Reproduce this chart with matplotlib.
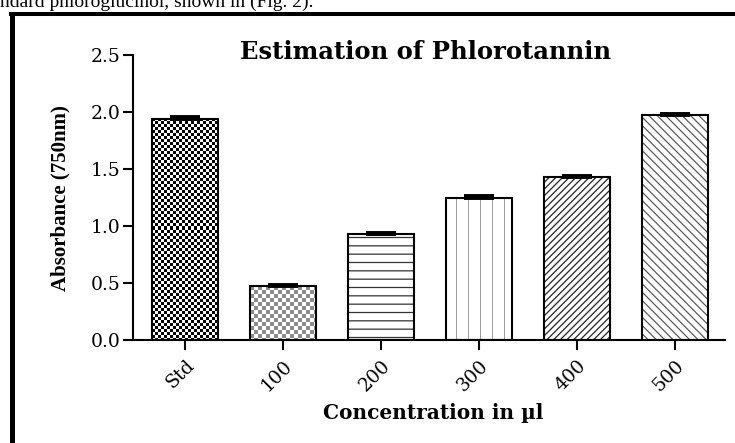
import numpy as np
import matplotlib
matplotlib.use("Agg")
import matplotlib.pyplot as plt
from matplotlib.lines import Line2D

# data
groups = ["Std", "100", "200", "300", "400", "500"]
absorbance = [1.94, 0.47, 0.93, 1.25, 1.43, 1.97]
sd = [0.012, 0.012, 0.012, 0.015, 0.01, 0.01]
yticks = [0.0, 0.5, 1.0, 1.5, 2.0, 2.5]

plt.rcParams["font.family"] = ["Liberation Serif", "DejaVu Serif"]
plt.rcParams["hatch.linewidth"] = 0.9

fig = plt.figure(figsize=(7.35, 4.43), dpi=100)
W, H = 735, 443
ax = fig.add_axes([133 / W, (H - 340) / H, (725 - 133) / W, 285 / H])

x = np.arange(len(groups))
width = 0.68
ax.set_xlim(-0.53, 5.51)
ax.set_ylim(0, 2.5)

# line hatches (colour comes from edgecolor, edge itself not drawn)
hatches = ["", "", "--", "", "/////", "\\\\\\\\"]
hatch_cols = ["none", "none", "#333333", "none", "#222222", "#5a5a5a"]
hb = ax.bar(x, absorbance, width, facecolor="none", edgecolor=hatch_cols,
            linewidth=0, zorder=2)
for p, h in zip(hb, hatches):
    p.set_hatch(h)

outline = ax.bar(x, absorbance, width, facecolor="none", edgecolor="black",
                 linewidth=1.5, zorder=4)


def pixel_fill(i, kind):
    p = outline[i]
    x0, y0 = p.get_x(), 0
    x1, y1 = x0 + p.get_width(), p.get_height()
    (px0, py0), (px1, py1) = ax.transData.transform([(x0, y0), (x1, y1)])
    w = max(int(round(px1 - px0)), 1)
    h = max(int(round(py1 - py0)), 1)
    r, c = np.indices((h, w))
    img = np.ones((h, w, 3))
    if kind == "fine":
        mask = ((r // 3 + c // 3) % 2) == 0
        img[mask] = 0.0
    elif kind == "coarse":
        mask = ((r // 4 + c // 4) % 2) == 0
        img[mask] = 0.55
    elif kind == "vlines":
        mask = (c % 12) == 10
        img[mask] = 0.62
    im = ax.imshow(img, extent=(x0, x1, y0, y1), aspect="auto",
                   interpolation="nearest", zorder=1.5)
    im.set_clip_path(p)


pixel_fill(0, "fine")
pixel_fill(1, "coarse")
pixel_fill(3, "vlines")
ax.set_xlim(-0.53, 5.51)
ax.set_ylim(0, 2.5)

ax.errorbar(x, absorbance, yerr=[[0] * len(sd), sd], fmt="none",
            ecolor="black", elinewidth=2, capsize=11, capthick=2.8, zorder=5)

for s in ["top", "right"]:
    ax.spines[s].set_visible(False)
for s in ["left", "bottom"]:
    ax.spines[s].set_linewidth(1.5)
ax.spines["left"].set_bounds(0, 2.5)

ax.set_yticks(yticks)
ax.set_yticklabels([f"{v:.1f}" for v in yticks])
ax.set_xticks(x)
ax.set_xticklabels(groups, rotation=45, ha="right", rotation_mode="anchor")
ax.tick_params(axis="both", direction="out", length=7, width=1.5,
               labelsize=13.5, colors="black")
ax.tick_params(axis="y", pad=2)
ax.tick_params(axis="x", pad=5)
for lab in ax.get_xticklabels() + ax.get_yticklabels():
    lab.set_family("DejaVu Serif")

fig.text(60 / W, 1 - 198 / H, "Absorbance (750nm)", rotation=90,
         fontsize=15, fontweight="bold", ha="center", va="center")
fig.text(433 / W, 1 - 413 / H, "Concentration in \u00b5l",
         fontsize=14.5, fontweight="bold", ha="center", va="center",
         family="DejaVu Serif")
fig.text(425 / W, 1 - 52 / H, "Estimation of Phlorotannin",
         fontsize=17.5, fontweight="bold", ha="center", va="center",
         family="DejaVu Serif")

# cropped page text and figure frame
fig.text(0, 1 - 7 / H, "ndard phloroglucinol, shown in (Fig. 2).",
         fontsize=14, va="baseline", ha="left")
fig.add_artist(Line2D([11.5 / W, 11.5 / W], [0, 1 - 12 / H], color="black",
                      linewidth=3.6, transform=fig.transFigure,
                      solid_capstyle="butt"))
fig.add_artist(Line2D([9 / W, 1], [1 - 14 / H, 1 - 14 / H], color="black",
                      linewidth=2.9, transform=fig.transFigure,
                      solid_capstyle="butt"))

fig.savefig("out.png", dpi=100)
